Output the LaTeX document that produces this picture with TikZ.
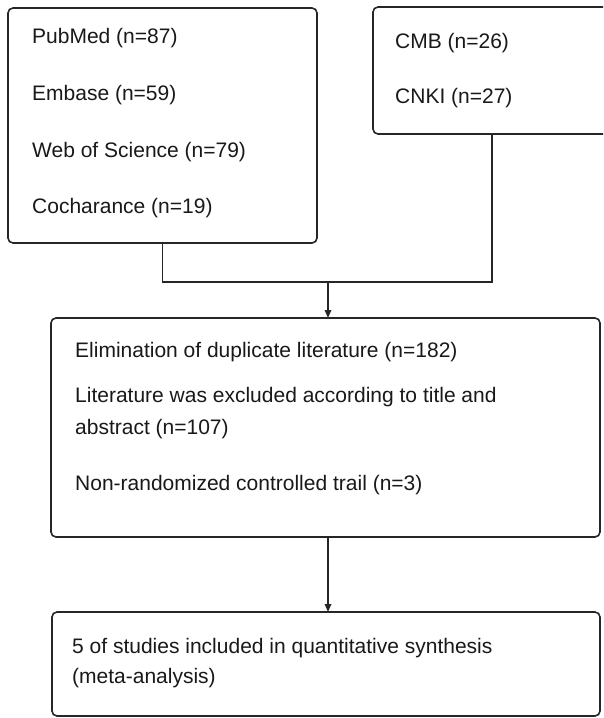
\documentclass[tikz,border=0pt]{standalone}
\usepackage{fontspec}
\setmainfont{Liberation Sans}
\usetikzlibrary{arrows.meta}
\begin{document}
\begin{tikzpicture}[x=1pt,y=-1pt,
  box/.style={rectangle, rounded corners=5pt,
    draw=black!85, line width=1.6pt, inner sep=0pt, outer sep=0pt, fill=white},
  txt/.style={anchor=base west, inner sep=0pt, font=\fontsize{21}{26}\selectfont, text=black!90},
  conn/.style={draw=black!85, line width=1.6pt},
  arr/.style={conn, -{Triangle[length=8pt,width=6.5pt]}}]
\useasboundingbox (0,0) rectangle (603,718);
\clip (0,0) rectangle (603,718);
\fill[white] (0,0) rectangle (603,718);
% boxes
\node[box, minimum width=309pt, minimum height=235pt] (src1) at (162.5,125.5) {};
\node[box, minimum width=257pt, minimum height=127pt] (src2) at (501.5,70.5) {};
\node[box, minimum width=549pt, minimum height=219pt] (mid) at (325.5,427.5) {};
\node[box, minimum width=548pt, minimum height=104pt] (fin) at (326,664) {};
% texts
\node[txt] (pubmed) at (32,43) {PubMed (n=87)};
\node[txt] (embase) at (32,100) {Embase (n=59)};
\node[txt] (wos) at (32,157) {Web of Science (n=79)};
\node[txt] (coch) at (32,213) {Cocharance (n=19)};
\node[txt] (cmb) at (395,48) {CMB (n=26)};
\node[txt] (cnki) at (395,103) {CNKI (n=27)};
\node[txt] (elim) at (75,357) {Elimination of duplicate literature (n=182)};
\node[txt] (lit1) at (75,402) {Literature was excluded according to title and};
\node[txt] (lit2) at (75,434) {abstract (n=107)};
\node[txt] (nonr) at (75,490) {Non-randomized controlled trail (n=3)};
\node[txt] (syn1) at (72,653) {5 of studies included in quantitative synthesis};
\node[txt] (syn2) at (72,683) {(meta-analysis)};
% connectors
\coordinate (j) at (328,282);
\coordinate (leg2) at (492,134);
\draw[conn] (src1.south) |- (j) -| (leg2);
\draw[arr] (j) -- (j |- mid.north);
\draw[arr] (j |- mid.south) -- (j |- fin.north);
\end{tikzpicture}
\end{document}
